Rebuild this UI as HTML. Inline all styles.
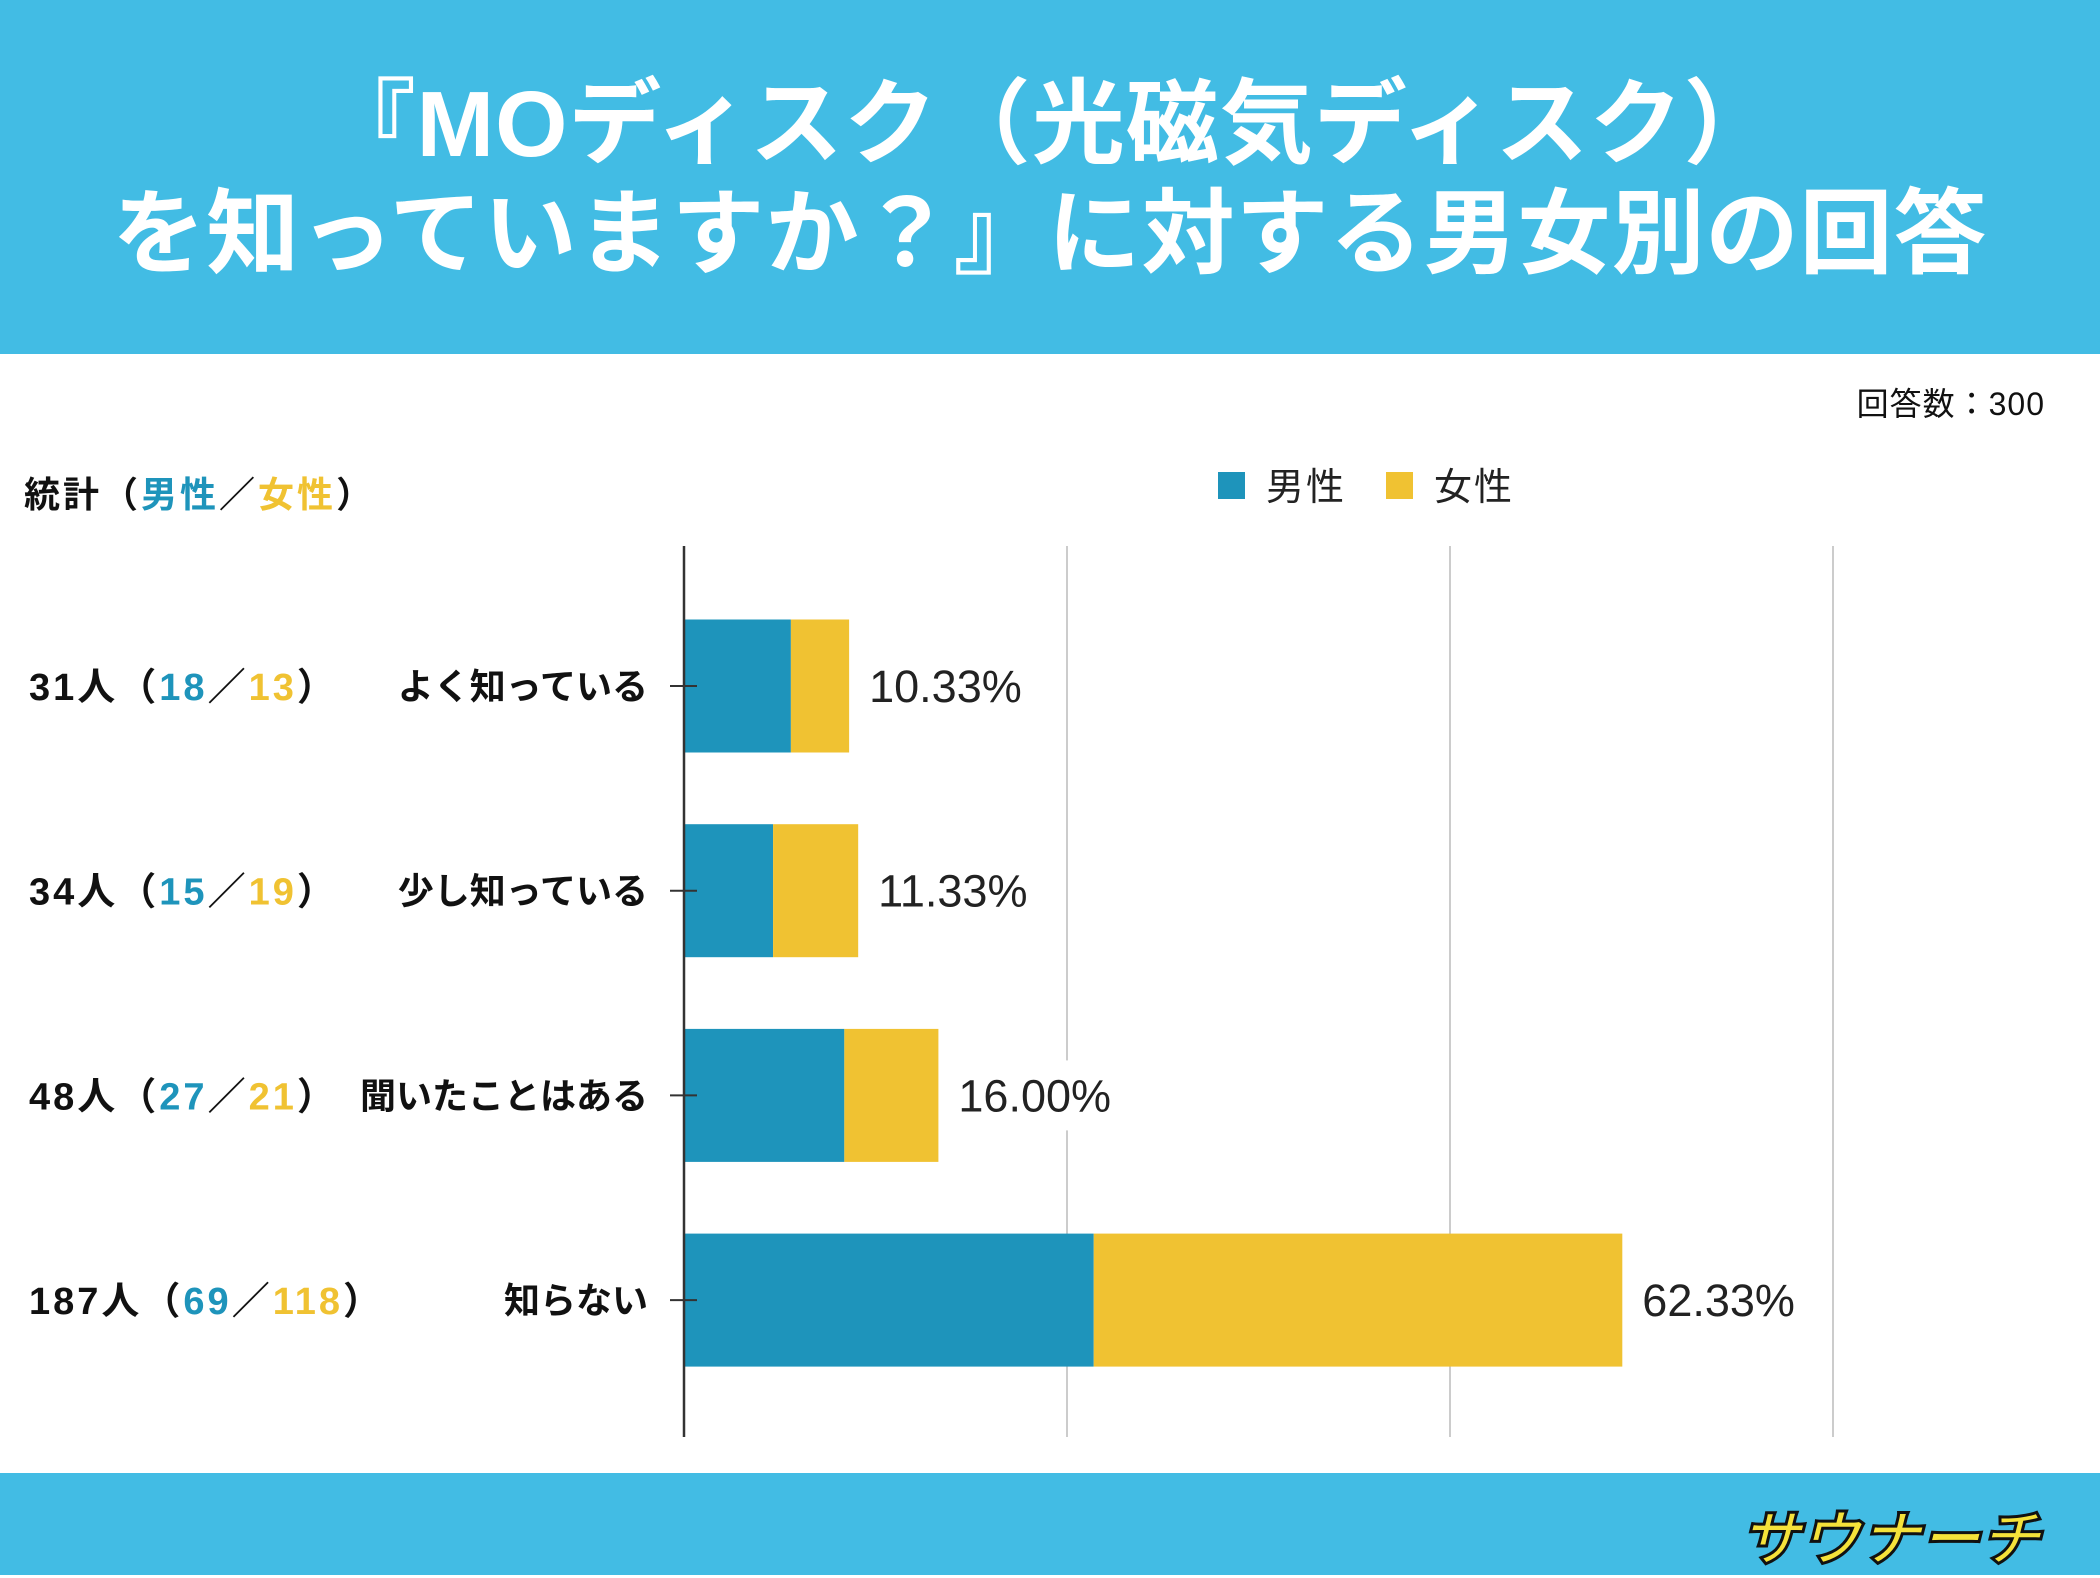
<!DOCTYPE html>
<html><head><meta charset="utf-8"><style>
body{margin:0;width:2100px;height:1575px;overflow:hidden;background:#fff;font-family:"Liberation Sans","Noto Sans CJK JP",sans-serif;}
#hdr{position:absolute;left:0;top:0;width:2100px;height:354px;background:#42bce4;}
.t{position:absolute;left:0;width:2100px;text-align:center;color:#fff;font-weight:bold;font-size:93px;line-height:1;letter-spacing:1px;}
#ftr{position:absolute;left:0;top:1473px;width:2100px;height:102px;background:#42bce4;}
.lbl{position:absolute;font-size:37px;font-weight:bold;color:#111;line-height:1;white-space:nowrap;}
.b{color:#1e94bb}.y{color:#f0c232}
</style></head><body>
<div id="hdr">
<div class="t" style="top:78px">『MOディスク（光磁気ディスク）</div>
<div class="t" style="top:188px">を知っていますか？』に対する男女別の回答</div>
</div>
<div class="lbl" style="right:55px;top:388px;font-weight:normal;font-size:32px;letter-spacing:1px">回答数：300</div>
<div class="lbl" style="left:24px;top:477px;font-size:36px;letter-spacing:3px">統計（<span class="b">男性</span>／<span class="y">女性</span>）</div>
<svg id="chart" width="2100" height="1575" style="position:absolute;left:0;top:0"></svg>
<div id="ftr">
<div style="position:absolute;right:60px;top:18px;font-size:60px;font-weight:bold;color:#f5e23a;-webkit-text-stroke:3px #111;font-style:italic">サウナーチ</div>
</div>
<script>
const categories=["よく知っている","少し知っている","聞いたことはある","知らない"];
const menCounts=[18,15,27,69];
const womenCounts=[13,19,21,118];
const totals=[31,34,48,187];
const pctLabels=["10.33%","11.33%","16.00%","62.33%"];
const gridTicks=[50,100,150];
const svg=document.getElementById('chart');
const NS='http://www.w3.org/2000/svg';
const x0=684,pxPer=7.66,rowTop=686,rowStep=204.7,barH=133;
const menTot=menCounts.reduce((a,b)=>a+b,0),womenTot=womenCounts.reduce((a,b)=>a+b,0);
const X=p=>x0+p*pxPer;
const Y=i=>rowTop+i*rowStep;
function mk(t,a){const e=document.createElementNS(NS,t);for(const k in a)e.setAttribute(k,a[k]);svg.appendChild(e);return e;}
gridTicks.forEach(g=>{const l=mk('line',{x1:X(g),x2:X(g),y1:546,y2:1437,stroke:'#ccc','stroke-width':2});

});
categories.forEach((c,i)=>{
 const mp=menCounts[i]/menTot*100,wp=womenCounts[i]/womenTot*100,cy=Y(i);
 const r1=mk('rect',{x:X(0),y:cy-barH/2,width:X(mp)-X(0),height:barH,fill:'#1e94bb'});
 
 
 const r2=mk('rect',{x:X(mp),y:cy-barH/2,width:X(mp+wp)-X(mp),height:barH,fill:'#f0c232'});
 
 
 const bg=mk('rect',{x:X(mp+wp)+10,y:cy-35,width:180,height:70,fill:'#fff'});
 
 
 const t=mk('text',{x:X(mp+wp)+20,y:cy+16,'font-size':45,fill:'#222','font-family':'Liberation Sans, sans-serif'});t.textContent=pctLabels[i];
 
 
 const tk=mk('line',{x1:670,x2:697,y1:cy,y2:cy,stroke:'#333','stroke-width':2});
 
 
 const cl=mk('text',{x:648,y:cy+13,'text-anchor':'end','font-size':36,'font-weight':'bold',fill:'#111','font-family':'Liberation Sans, Noto Sans CJK JP, sans-serif'});cl.textContent=c;
 
 
 const st=mk('text',{x:29,y:cy+14,'font-size':38,'font-weight':'bold',fill:'#111','letter-spacing':3,'font-family':'Liberation Sans, Noto Sans CJK JP, sans-serif'});
 st.innerHTML=totals[i]+'人（<tspan fill="#1e94bb">'+menCounts[i]+'</tspan>／<tspan fill="#f0c232">'+womenCounts[i]+'</tspan>）';
 
 
});
const ax=mk('line',{x1:X(0),x2:X(0),y1:546,y2:1437,stroke:'#333','stroke-width':2.5});


const lg=[['#1e94bb','男性',1218],['#f0c232','女性',1386]];
lg.forEach(([c,n,x])=>{const r=mk('rect',{x:x,y:472,width:27,height:27,fill:c});


const t=mk('text',{x:x+48,y:500,'font-size':38,fill:'#222','letter-spacing':2,'font-family':'Liberation Sans, Noto Sans CJK JP, sans-serif'});t.textContent=n;

});
</script>
</body></html>
